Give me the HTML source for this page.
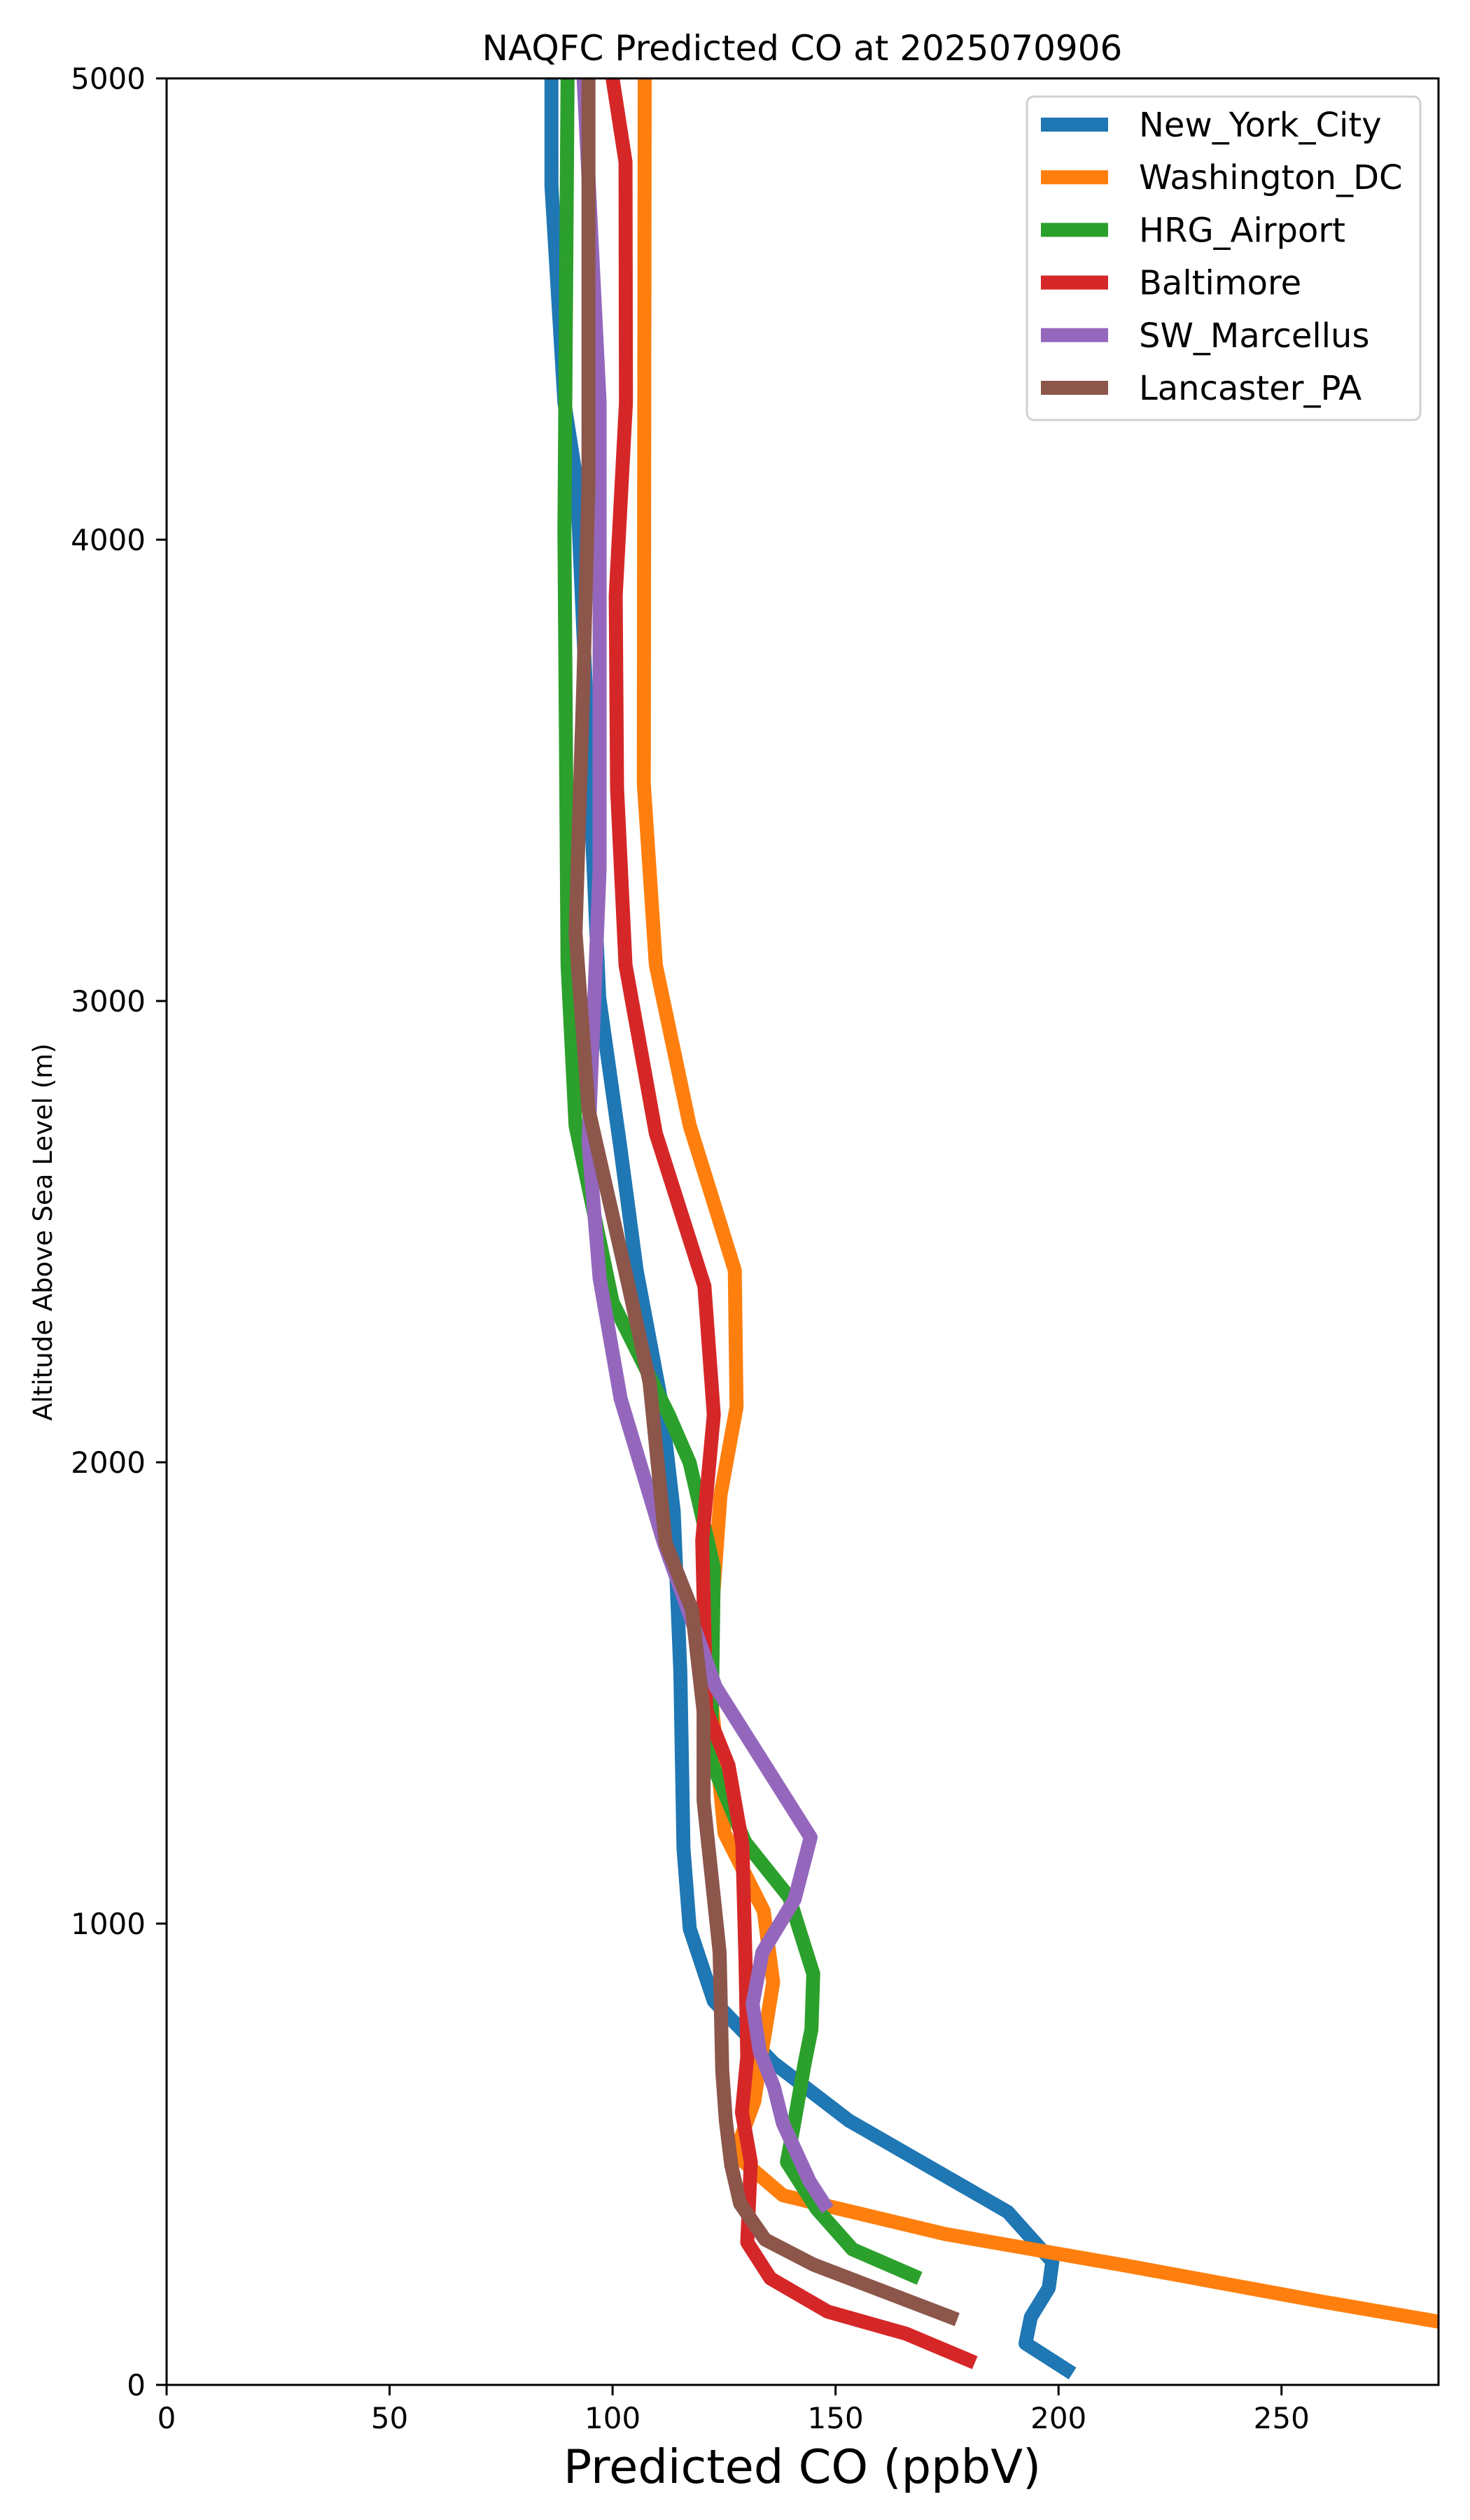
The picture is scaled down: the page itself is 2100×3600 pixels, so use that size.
<!DOCTYPE html>
<html><head><meta charset="utf-8"><title>NAQFC Predicted CO</title>
<style>
html,body{margin:0;padding:0;background:#fff;}
svg{display:block;font-family:"DejaVu Sans","Liberation Sans",sans-serif;}
</style></head>
<body>
<svg id="chart" width="2100" height="3600" viewBox="0 0 2100 3600" xmlns="http://www.w3.org/2000/svg">
  <rect x="0" y="0" width="2100" height="3600" fill="#fff"/>
  <defs><clipPath id="plotclip"><rect x="238" y="112" width="1817" height="3295"/></clipPath></defs>
  <text x="1146" y="86" font-size="50" text-anchor="middle">NAQFC Predicted CO at 2025070906</text>
  <g id="series" clip-path="url(#plotclip)"></g>
  <g id="axes"></g>
  <text x="1146" y="3547" font-size="67" text-anchor="middle">Predicted CO (ppbV)</text>
  <text x="0" y="0" font-size="37" text-anchor="middle" transform="translate(74,1760) rotate(-90)">Altitude Above Sea Level (m)</text>
  <g id="legend"></g>
</svg>
<script>
const xTicks = [0, 50, 100, 150, 200, 250];
const yTicks = [0, 1000, 2000, 3000, 4000, 5000];
const seriesNames = ["New_York_City","Washington_DC","HRG_Airport","Baltimore","SW_Marcellus","Lancaster_PA"];
const seriesColors = ["#1f77b4","#ff7f0e","#2ca02c","#d62728","#9467bd","#8c564b"];

const nycAlt = [5000,4767,4297,4123,3008,2678,2416,2138,1894,1546,1163,989,832,699,573,375,267,210,147,90,33];
const nycCO  = [86.3,86.3,89.2,92,97,101.8,105.4,110.8,113.7,115.2,115.9,117.3,122.7,136,153,188.6,198.6,197.8,193.8,192.6,201.8];
const dcAlt = [5000,3472,3078,2730,2416,2120,1929,1700,1500,1196,1027,873,669,615,500,411,327,258,181,136,100];
const dcCO  = [107.2,107,109.7,117.3,127.4,127.8,124.2,122.5,122,125.1,133.9,136,132.6,131.8,127.4,138.2,174.6,215.5,258.8,285.9,308];
const hrgAlt = [5000,4018,3078,2730,2347,2103,1999,1772,1352,1177,1057,891,771,693,561,483,381,294,237];
const hrgCO  = [89.9,89.2,89.9,91.7,100,112.6,117.3,122.7,122.1,129.7,139.6,145,144.6,143,140.6,139.1,145.8,153.8,167.4];
const balAlt = [5000,4819,4297,3879,3461,3078,2713,2382,2103,1831,1463,1343,1172,921,711,591,483,309,231,159,111,54];
const balCO  = [100,102.9,103,100.7,101,102.9,109.7,120.6,122.7,120.1,121,126,129.1,129.8,130.2,129,131,130.2,135.4,148.2,165.8,179.8];
const swAlt = [5000,4297,3287,2695,2399,2138,1964,1825,1513,1187,1052,938,825,723,645,567,441,393];
const swCO  = [93.5,97.1,97.1,94.6,97.1,101.8,107.2,111.5,123.1,144.4,140.8,133.6,131.4,133,136.2,138.2,144.2,147.4];
const lanAlt = [5000,4123,3705,3148,2765,2382,2173,1825,1681,1460,1267,938,681,573,477,393,315,261,147];
const lanCO  = [94.6,94.6,93.5,91.7,94.6,103.6,108.3,111.9,117.8,120.4,120.4,124,124.6,125.4,126.6,128.6,134.2,145,175.8];

const X0 = 238, X1 = 2055, Y0 = 3407, Y1 = 112, XMAX = 285.2, YMAX = 5000;
function xScale(v){ return X0 + (v / XMAX) * (X1 - X0); }
function yScale(a){ return Y0 - (a / YMAX) * (Y0 - Y1); }
const NS = "http://www.w3.org/2000/svg";
function mk(tag, attrs, parent){ const e = document.createElementNS(NS, tag); for (const k in attrs) e.setAttribute(k, attrs[k]); parent.appendChild(e); return e; }

const seriesG = document.getElementById("series");
const allCO = [nycCO, dcCO, hrgCO, balCO, swCO, lanCO];
const allAlt = [nycAlt, dcAlt, hrgAlt, balAlt, swAlt, lanAlt];
const slugs = ["new-york-city","washington-dc","hrg-airport","baltimore","sw-marcellus","lancaster-pa"];
for (let i = 0; i < allCO.length; i++) {
  const pts = allCO[i].map((v, j) => xScale(v).toFixed(1) + "," + yScale(allAlt[i][j]).toFixed(1)).join(" ");
  const pl = mk("polyline", {points: pts, fill: "none", stroke: seriesColors[i], "stroke-width": 20, "stroke-linejoin": "round", "stroke-linecap": "square"}, seriesG);
  
  
}

const axesG = document.getElementById("axes");
const frame = mk("rect", {x: X0, y: Y1, width: X1 - X0, height: Y0 - Y1, fill: "none", stroke: "#000", "stroke-width": 3}, axesG);


xTicks.forEach(t => {
  const x = xScale(t);
  const tk = mk("line", {x1: x, x2: x, y1: Y0, y2: Y0 + 15, stroke: "#000", "stroke-width": 3}, axesG);
  
  
  const lb = mk("text", {x: x, y: 3469, "font-size": 42, "text-anchor": "middle"}, axesG);
  lb.textContent = String(t);
  
  
});
yTicks.forEach(t => {
  const y = yScale(t);
  const tk = mk("line", {x1: X0 - 15, x2: X0, y1: y, y2: y, stroke: "#000", "stroke-width": 3}, axesG);
  
  
  const lb = mk("text", {x: 208, y: y + 15, "font-size": 42, "text-anchor": "end"}, axesG);
  lb.textContent = String(t);
  
  
});

const legG = document.getElementById("legend");
const box = mk("rect", {x: 1467, y: 138, width: 562, height: 462, rx: 10, fill: "#fff", "fill-opacity": 0.8, stroke: "#d0d0d0", "stroke-width": 3}, legG);


seriesNames.forEach((n, i) => {
  const y = 178 + i * 75.2;
  const ln = mk("line", {x1: 1487, x2: 1583, y1: y, y2: y, stroke: seriesColors[i], "stroke-width": 20}, legG);
  
  
  const tx = mk("text", {x: 1627, y: y + 17, "font-size": 48}, legG);
  tx.textContent = n;
  
  
});
</script>
</body></html>
